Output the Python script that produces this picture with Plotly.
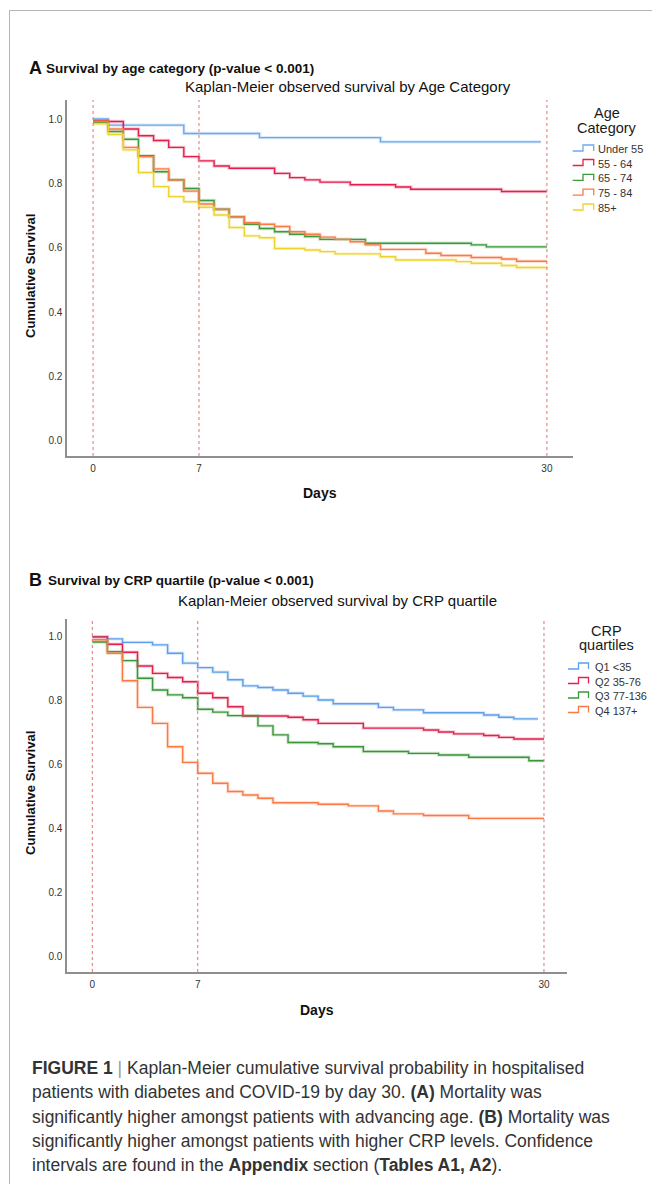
import plotly.graph_objects as go

W, H = 652, 1184

# ---------------- Data ----------------
# Panel A: survival by age category
age_labels = ["Under 55", "55 - 64", "65 - 74", "75 - 84", "85+"]
age_colors = ["#6FA8EC", "#E3214E", "#3C9A3C", "#FA7A45", "#EED42A"]

u55_days = [0, 1, 6, 11, 19, 29.6]
u55_surv = [1.0, 0.981, 0.955, 0.942, 0.929, 0.929]

a55_days = [0, 1, 2, 3, 4, 5, 6, 7, 8, 9, 12, 13, 14, 15, 17, 20, 21, 27, 30]
a55_surv = [0.995, 0.992, 0.969, 0.948, 0.933, 0.912, 0.883, 0.870, 0.854, 0.847,
            0.831, 0.818, 0.811, 0.804, 0.796, 0.789, 0.782, 0.775, 0.775]

a65_days = [0, 1, 2, 3, 4, 5, 6, 7, 8, 9, 10, 11, 12, 13, 14, 15, 18, 25, 26, 30]
a65_surv = [0.990, 0.961, 0.937, 0.886, 0.836, 0.811, 0.784, 0.747, 0.720, 0.696,
            0.673, 0.660, 0.650, 0.642, 0.635, 0.626, 0.614, 0.609, 0.603, 0.603]

a75_days = [0, 1, 2, 3, 4, 5, 6, 7, 8, 9, 10, 11, 12, 13, 14, 15, 16, 17, 18, 19,
            22, 23, 25, 27, 28, 30]
a75_surv = [0.993, 0.969, 0.912, 0.883, 0.845, 0.811, 0.776, 0.736, 0.719, 0.696,
            0.678, 0.673, 0.666, 0.650, 0.642, 0.633, 0.626, 0.619, 0.609, 0.595,
            0.583, 0.576, 0.570, 0.565, 0.558, 0.558]

a85_days = [0, 1, 2, 3, 4, 5, 6, 7, 8, 9, 10, 11, 12, 14, 15, 16, 19, 20, 24, 25,
            27, 28, 30]
a85_surv = [0.985, 0.952, 0.904, 0.834, 0.790, 0.759, 0.743, 0.726, 0.702, 0.663,
            0.637, 0.631, 0.598, 0.593, 0.588, 0.581, 0.572, 0.562, 0.557, 0.552,
            0.545, 0.539, 0.536]

# Panel B: survival by CRP quartile
crp_labels = ["Q1 <35", "Q2 35-76", "Q3 77-136", "Q4 137+"]
crp_colors = ["#5F9FEA", "#E0234F", "#3B973B", "#FA7A45"]

q1_days = [0, 1, 2, 4, 5, 6, 7, 8, 9, 10, 11, 12, 13, 14, 15, 16, 19, 20, 22, 26,
           27, 28, 29.6]
q1_surv = [1.0, 0.994, 0.983, 0.975, 0.949, 0.918, 0.904, 0.890, 0.866, 0.847,
           0.842, 0.834, 0.824, 0.815, 0.803, 0.791, 0.780, 0.772, 0.763, 0.756,
           0.749, 0.744, 0.744]

q2_days = [0, 1, 2, 3, 4, 5, 6, 7, 8, 9, 10, 13, 14, 15, 18, 22, 23, 24, 26, 27,
           28, 30]
q2_surv = [1.0, 0.977, 0.952, 0.909, 0.886, 0.873, 0.860, 0.824, 0.810, 0.782,
           0.753, 0.749, 0.741, 0.730, 0.715, 0.709, 0.703, 0.697, 0.692, 0.686,
           0.681, 0.681]

q3_days = [0, 1, 2, 3, 4, 5, 6, 7, 8, 9, 11, 12, 13, 15, 16, 18, 21, 23, 25, 29, 30]
q3_surv = [0.984, 0.954, 0.926, 0.871, 0.834, 0.819, 0.810, 0.774, 0.765, 0.754,
           0.722, 0.694, 0.670, 0.666, 0.657, 0.642, 0.636, 0.631, 0.624, 0.613,
           0.613]

q4_days = [0, 1, 2, 3, 4, 5, 6, 7, 8, 9, 10, 11, 12, 15, 17, 19, 20, 22, 25, 30]
q4_surv = [0.991, 0.949, 0.863, 0.780, 0.730, 0.657, 0.608, 0.574, 0.543, 0.517,
           0.506, 0.496, 0.482, 0.477, 0.472, 0.456, 0.447, 0.442, 0.433, 0.433]

ref_days = [0, 7, 30]
x_ticks = [0, 7, 30]
y_ticks = [0.0, 0.2, 0.4, 0.6, 0.8, 1.0]

age_series = [(u55_days, u55_surv), (a55_days, a55_surv), (a65_days, a65_surv),
              (a75_days, a75_surv), (a85_days, a85_surv)]
crp_series = [(q1_days, q1_surv), (q2_days, q2_surv), (q3_days, q3_surv),
              (q4_days, q4_surv)]

FONT = "Liberation Sans, Arial, sans-serif"


def px(x):
    return x / W


def py(y):
    return 1 - y / H


fig = go.Figure()


def add_curves(series, colors, xa, ya):
    for (d, s), c in zip(series, colors):
        fig.add_trace(go.Scatter(x=d, y=s, mode="lines", line=dict(color=c, width=3.4, shape="hv"),
                                 opacity=0.22, xaxis=xa, yaxis=ya, showlegend=False,
                                 hoverinfo="skip"))
        fig.add_trace(go.Scatter(x=d, y=s, mode="lines", line=dict(color=c, width=1.4, shape="hv"),
                                 xaxis=xa, yaxis=ya, showlegend=False))


add_curves(age_series, age_colors, "x", "y")
add_curves(crp_series, crp_colors, "x2", "y2")

axis_common = dict(showline=True, linecolor="#8f8f8f", linewidth=1.6, showgrid=False,
                   zeroline=False, ticks="outside", tickcolor="rgba(0,0,0,0)",
                   tickfont=dict(family=FONT, size=10, color="#333333"), fixedrange=True)

fig.update_layout(
    width=W, height=H, margin=dict(l=0, r=0, t=0, b=0),
    paper_bgcolor="white", plot_bgcolor="white", showlegend=False,
    xaxis=dict(domain=[67.2 / W, 572.6 / W], range=[-1.71, 31.7], tickvals=x_ticks,
               ticklen=2, anchor="y", **axis_common),
    yaxis=dict(domain=[py(456), py(100)], range=[-0.0466, 1.059], tickvals=y_ticks,
               tickformat=".1f", ticklen=1, anchor="x", **axis_common),
    xaxis2=dict(domain=[67.2 / W, 567 / W], range=[-1.67, 31.53], tickvals=x_ticks,
                ticklen=2, anchor="y2", **axis_common),
    yaxis2=dict(domain=[py(972), py(619)], range=[-0.047, 1.056], tickvals=y_ticks,
                tickformat=".1f", ticklen=1, anchor="x2", **axis_common),
)

shapes = []
# red dotted reference lines at day 0, 7, 30
for xr, yr in (("x", "y domain"), ("x2", "y2 domain")):
    for d in ref_days:
        shapes.append(dict(type="line", xref=xr, yref=yr, x0=d, x1=d, y0=0, y1=1,
                           line=dict(color="#F07A7A", width=1.1, dash="dot")))

# page frame lines
shapes.append(dict(type="line", xref="paper", yref="paper", x0=px(9), x1=1, y0=py(10.5), y1=py(10.5),
                   line=dict(color="#b5b5b5", width=1)))
shapes.append(dict(type="line", xref="paper", yref="paper", x0=px(9.5), x1=px(9.5), y0=0, y1=py(10),
                   line=dict(color="#b5b5b5", width=1)))

annotations = []


def text(x, y, s, size, color="#111111", xanchor="left", bold=False, angle=0):
    annotations.append(dict(x=px(x), y=py(y), xref="paper", yref="paper", text=s,
                            showarrow=False, xanchor=xanchor, yanchor="middle",
                            textangle=angle,
                            font=dict(family=FONT, size=size, color=color,
                                      weight="bold" if bold else "normal")))


def legend(labels, colors, x0, xm, x1, tx, rows, title_lines, title_x, title_ys):
    for ln, ty in zip(title_lines, title_ys):
        text(title_x, ty, ln, 14.5, "#1a1a1a", xanchor="center")
    for lab, c, ry in zip(labels, colors, rows):
        yb, yt = ry + 2.0, ry - 4.0
        path = (f"M {px(x0)} {py(yb)} L {px(xm)} {py(yb)} L {px(xm)} {py(yt)} "
                f"L {px(x1)} {py(yt)} L {px(x1)} {py(yb)}")
        shapes.append(dict(type="path", xref="paper", yref="paper", path=path,
                           line=dict(color=c, width=1.3)))
        text(tx, ry, lab, 11, "#333333")


# Panel A texts
text(26.5, 68.5, "A", 18, bold=True)
text(43.5, 69, "Survival by age category (p-value &lt; 0.001)", 13.5, bold=True)
text(348, 87, "Kaplan-Meier observed survival by Age Category", 15, xanchor="center")
text(30, 276, "Cumulative Survival", 13, bold=True, xanchor="center", angle=-90)
text(320, 493, "Days", 14, bold=True, xanchor="center")
legend(age_labels, age_colors, 572.7, 583, 593.7, 596, [149, 163.5, 178.3, 193.2, 208],
       ["Age", "Category"], 607, [113.3, 127.5])

# Panel B texts
text(26.5, 579.5, "B", 18, bold=True)
text(45.5, 580, "Survival by CRP quartile (p-value &lt; 0.001)", 13.5, bold=True)
text(337, 600, "Kaplan-Meier observed survival by CRP quartile", 15, xanchor="center")
text(30, 793, "Cumulative Survival", 13, bold=True, xanchor="center", angle=-90)
text(317, 1010, "Days", 14, bold=True, xanchor="center")
legend(crp_labels, crp_colors, 568, 578.5, 588.5, 592.5, [667, 681.5, 696, 710.5],
       ["CRP", "quartiles"], 606, [630.5, 645])

# Caption
cap_lines = [
    "<b>FIGURE 1</b> <span style='color:#9a9a9a'>|</span> Kaplan-Meier cumulative survival probability in hospitalised",
    "patients with diabetes and COVID-19 by day 30. <b>(A)</b> Mortality was",
    "significantly higher amongst patients with advancing age. <b>(B)</b> Mortality was",
    "significantly higher amongst patients with higher CRP levels. Confidence",
    "intervals are found in the <b>Appendix</b> section (<b>Tables A1, A2</b>).",
]
cap_y = [1068, 1092, 1117, 1141, 1165]
for ln, yy in zip(cap_lines, cap_y):
    text(30, yy, ln, 17.5, "#333333")

fig.update_layout(shapes=shapes, annotations=annotations)
fig.write_html("out.html", config={"displayModeBar": False},
               post_script="document.body.style.margin='0';document.body.style.padding='0';")
